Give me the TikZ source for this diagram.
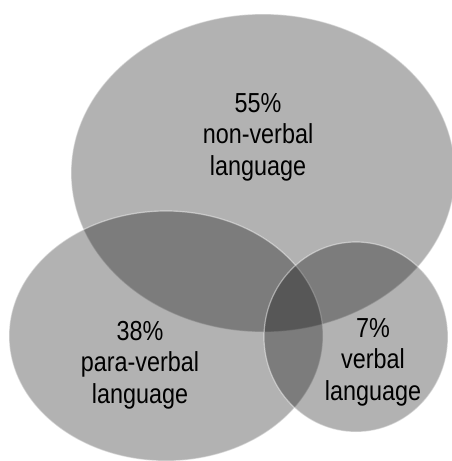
\documentclass[tikz,border=0pt]{standalone}
\usepackage{fontspec}
\setmainfont{Liberation Sans}
\newfontfamily\vennfont[FakeStretch=0.85]{Liberation Sans}
\begin{document}
\begin{tikzpicture}[x=1pt,y=-1pt,
    setfill/.style={fill=black,fill opacity=0.3,draw=white,draw opacity=0.45,line width=1.2pt},
    setlabel/.style={align=center,font=\vennfont\fontsize{27.5}{31.5}\selectfont,text=black}]
    \useasboundingbox (0,0) rectangle (452,461);
    % the three sets
    \fill[setfill] (263,173) ellipse (192 and 159);
    \fill[setfill] (166,336) ellipse (157 and 125);
    \fill[setfill] (356,337) ellipse (92 and 95);
    % labels
    \node[setlabel] (nonverbal) at (258,137) {55\%\\non-verbal\\language};
    \node[setlabel] (paraverbal) at (140,365) {38\%\\para-verbal\\language};
    \node[setlabel] (verbal) at (373,362) {7\%\\verbal\\language};
\end{tikzpicture}
\end{document}
